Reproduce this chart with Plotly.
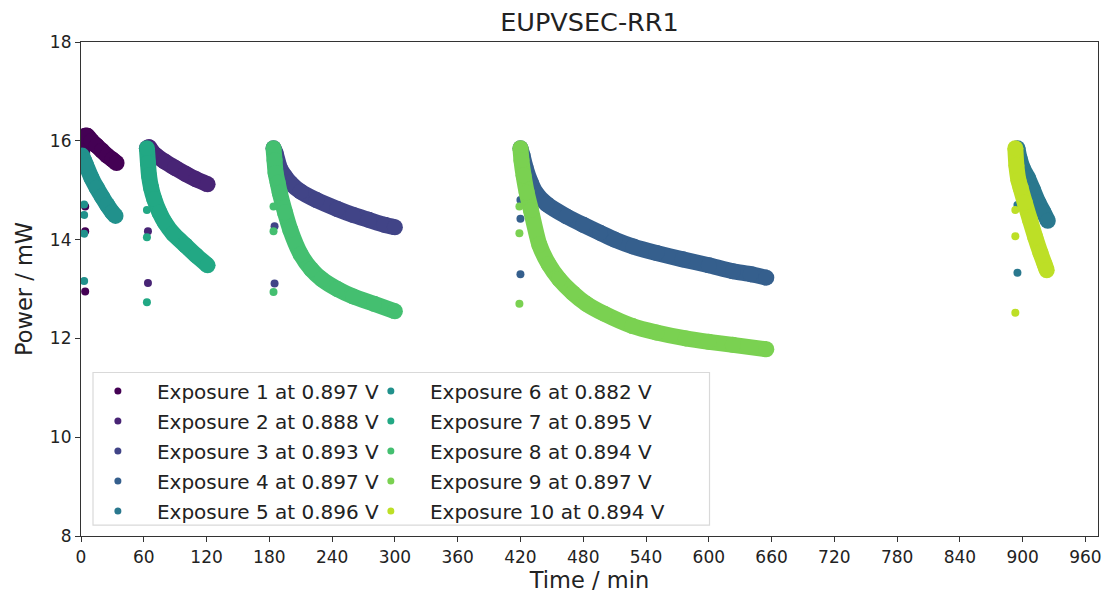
import plotly.graph_objects as go

# ---- data ----
labels = ["Exposure 1 at 0.897 V", "Exposure 2 at 0.888 V", "Exposure 3 at 0.893 V",
          "Exposure 4 at 0.897 V", "Exposure 5 at 0.896 V", "Exposure 6 at 0.882 V",
          "Exposure 7 at 0.895 V", "Exposure 8 at 0.894 V", "Exposure 9 at 0.897 V",
          "Exposure 10 at 0.894 V"]
colors = ["#440154", "#482475", "#414487", "#355f8d", "#2a788e",
          "#21918c", "#22a884", "#44bf70", "#7ad151", "#bddf26"]

exp1_t = [1, 2, 4, 6, 10, 15, 20, 25, 30, 34]
exp1_p = [15.75, 15.95, 16.1, 16.1, 16.0, 15.9, 15.8, 15.7, 15.62, 15.55]
exp2_t = [63, 65, 68, 72, 80, 90, 100, 110, 121]
exp2_p = [15.85, 15.87, 15.78, 15.7, 15.58, 15.45, 15.33, 15.22, 15.12]
exp3_t = [184, 186, 190, 195, 200, 210, 225, 245, 260, 275, 290, 300]
exp3_p = [15.85, 15.75, 15.45, 15.28, 15.15, 14.97, 14.8, 14.62, 14.5, 14.4, 14.3, 14.25]
exp4_t = [420, 422, 425, 430, 435, 445, 464, 480, 496, 510, 528, 550, 575, 600, 623, 640, 655]
exp4_p = [15.85, 15.7, 15.45, 15.15, 14.94, 14.72, 14.47, 14.3, 14.14, 14.0, 13.86, 13.73,
          13.6, 13.48, 13.36, 13.3, 13.23]
exp5_t = [895, 897, 900, 905, 910, 915, 920, 924]
exp5_p = [15.85, 15.65, 15.45, 15.25, 15.0, 14.75, 14.55, 14.38]
exp6_t = [1, 3, 5, 10, 15, 20, 25, 30, 33]
exp6_p = [15.7, 15.6, 15.5, 15.25, 15.05, 14.87, 14.7, 14.55, 14.48]
exp7_t = [63, 64, 65, 67, 70, 75, 80, 88, 100, 110, 121]
exp7_p = [15.85, 15.55, 15.3, 15.05, 14.82, 14.55, 14.35, 14.12, 13.88, 13.68, 13.48]
exp8_t = [184, 185, 186, 188, 190, 195, 200, 210, 220, 230, 245, 260, 280, 300]
exp8_p = [15.85, 15.6, 15.35, 15.15, 14.95, 14.55, 14.2, 13.7, 13.4, 13.2, 13.0, 12.85, 12.7, 12.55]
exp9_t = [420, 421, 423, 426, 430, 438, 447, 457, 470, 483, 500, 527, 550, 578, 600, 623, 655]
exp9_p = [15.85, 15.6, 15.3, 14.95, 14.6, 13.9, 13.5, 13.2, 12.92, 12.7, 12.5, 12.25,
          12.12, 12.0, 11.93, 11.87, 11.78]
exp10_t = [893, 894, 896, 898, 902, 907, 912, 917, 921, 923]
exp10_p = [15.85, 15.5, 15.2, 15.05, 14.75, 14.4, 14.05, 13.73, 13.5, 13.38]

# isolated low points at the start of each exposure
out1_t, out1_p = [4, 4, 4], [14.67, 14.17, 12.95]
out2_t, out2_p = [64, 64], [14.17, 13.12]
out3_t, out3_p = [185, 185], [14.27, 13.11]
out4_t, out4_p = [420, 420, 420], [14.8, 14.42, 13.3]
out5_t, out5_p = [895, 895], [14.7, 13.33]
out6_t, out6_p = [3, 3, 3, 3], [14.71, 14.5, 14.12, 13.16]
out7_t, out7_p = [63, 63, 63], [14.6, 14.05, 12.73]
out8_t, out8_p = [184, 184, 184], [14.67, 14.17, 12.94]
out9_t, out9_p = [419, 419, 419], [14.67, 14.13, 12.7]
out10_t, out10_p = [893, 893, 893], [14.6, 14.07, 12.52]

curves_t = [exp1_t, exp2_t, exp3_t, exp4_t, exp5_t, exp6_t, exp7_t, exp8_t, exp9_t, exp10_t]
curves_p = [exp1_p, exp2_p, exp3_p, exp4_p, exp5_p, exp6_p, exp7_p, exp8_p, exp9_p, exp10_p]
outs_t = [out1_t, out2_t, out3_t, out4_t, out5_t, out6_t, out7_t, out8_t, out9_t, out10_t]
outs_p = [out1_p, out2_p, out3_p, out4_p, out5_p, out6_p, out7_p, out8_p, out9_p, out10_p]

x_ticks = list(range(0, 961, 60))
y_ticks = [8, 10, 12, 14, 16, 18]

FONT = "DejaVu Sans"
fig = go.Figure()

for i in range(10):
    fig.add_trace(go.Scatter(
        x=curves_t[i], y=curves_p[i], mode="lines+markers",
        line=dict(color=colors[i], width=16, shape="spline", smoothing=0.6),
        marker=dict(color=colors[i], size=16),
        showlegend=False, hoverinfo="skip"))
    fig.add_trace(go.Scatter(
        x=outs_t[i], y=outs_p[i], mode="markers",
        marker=dict(color=colors[i], size=8),
        showlegend=False))

pad = "\u00a0\u00a0\u00a0"
for i in range(10):
    fig.add_trace(go.Scatter(
        x=[None], y=[None], mode="markers", name=pad + labels[i],
        marker=dict(color=colors[i], size=7),
        legend="legend" if i < 5 else "legend2",
        legendgroup="g%d" % i, showlegend=True))

fig.add_shape(type="rect", xref="paper", yref="paper",
              x0=0.0118, x1=0.618, y0=0.022, y1=0.331,
              line=dict(color="#d9d9d9", width=1.2), fillcolor="white",
              layer="above")

legend_common = dict(bgcolor="rgba(0,0,0,0)", borderwidth=0,
                     font=dict(family=FONT, size=20, color="#222"),
                     tracegroupgap=1, yanchor="top", xanchor="left",
                     orientation="v")
fig.update_layout(
    width=1107, height=593,
    margin=dict(l=81, r=5, t=42, b=56),
    paper_bgcolor="white", plot_bgcolor="white",
    title=dict(text="EUPVSEC-RR1", x=0.5, xref="paper", xanchor="center",
               y=0.962, yref="container", yanchor="middle",
               font=dict(family=FONT, size=25.5, color="#222")),
    legend=dict(x=0.0166, y=0.333, **legend_common),
    legend2=dict(x=0.285, y=0.333, **legend_common),
    xaxis=dict(range=[0, 972], tickvals=x_ticks, showgrid=False, zeroline=False,
               showline=True, mirror=True, linecolor="#333", linewidth=1.2,
               ticks="outside", ticklen=5, tickcolor="#333",
               tickfont=dict(family=FONT, size=17, color="#222"),
               title=dict(text="Time / min", standoff=6,
                          font=dict(family=FONT, size=22.5, color="#222"))),
    yaxis=dict(range=[8, 18], tickvals=y_ticks, showgrid=False, zeroline=False,
               showline=True, mirror=True, linecolor="#333", linewidth=1.2,
               ticks="outside", ticklen=5, tickcolor="#333",
               tickfont=dict(family=FONT, size=17, color="#222"),
               title=dict(text="Power / mW", standoff=10,
                          font=dict(family=FONT, size=22.5, color="#222"))),
)

fig.write_html("out.html")
